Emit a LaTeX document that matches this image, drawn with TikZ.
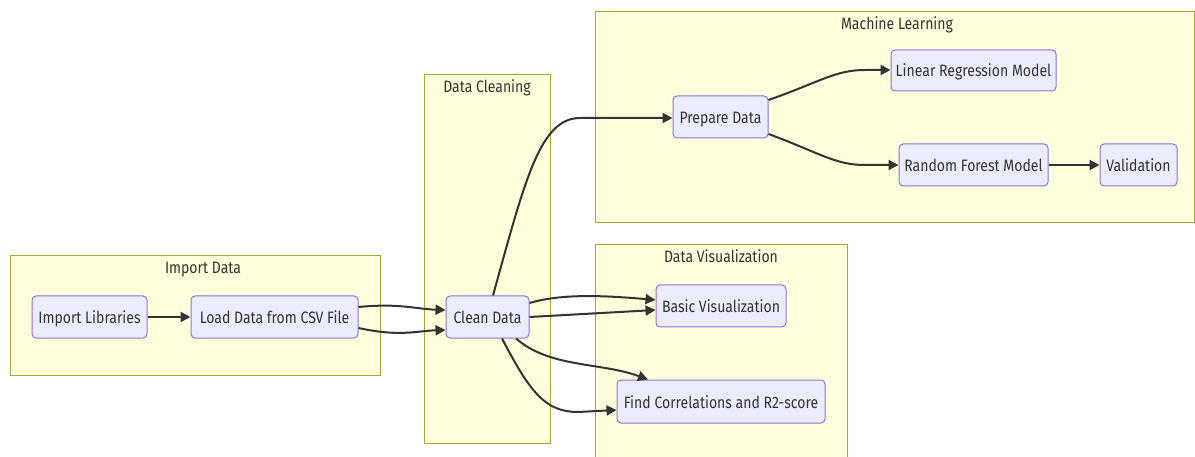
\documentclass[tikz,border=0pt]{standalone}
\usepackage{fontspec}
\setmainfont{Fira Sans}[FakeStretch=0.85]
\usetikzlibrary{arrows.meta}
\definecolor{clusterfill}{HTML}{FFFFDE}
\definecolor{clusterline}{HTML}{AAAA33}
\definecolor{boxfill}{HTML}{ECECFF}
\definecolor{boxline}{HTML}{9370DB}
\definecolor{ink}{HTML}{333333}
\tikzset{
  cluster/.style={draw=clusterline, fill=clusterfill, line width=1pt},
  ctitle/.style={text=ink, font=\fontsize{16.5}{18}\selectfont, inner sep=0pt,
    text height=13.5pt, text depth=1.5pt},
  box/.style={draw=boxline, fill=boxfill, line width=1pt, rounded corners=4pt,
    text=ink, font=\fontsize{16.5}{18}\selectfont, inner sep=0pt,
    text height=14pt, text depth=1pt},
  flow/.style={draw=ink, line width=2pt, -{Triangle[length=10pt,width=10pt]}},
}
\begin{document}
\begin{tikzpicture}[x=1pt,y=-1pt]
\useasboundingbox (0,0) rectangle (1195,457);
% groups
\draw[cluster] (10,256) rectangle (380,375);
\node[ctitle] (tImport) at (203,268) {Import Data};
\draw[cluster] (424,75) rectangle (550,443);
\node[ctitle] (tClean) at (487,87) {Data Cleaning};
\draw[cluster] (595,12) rectangle (1194,223);
\node[ctitle] (tML) at (897,24) {Machine Learning};
\draw[cluster] (595,245) rectangle (847,470);
\node[ctitle] (tVis) at (721,257) {Data Visualization};
% steps
\node[box, minimum width=115pt, minimum height=42pt] (lib) at (89.5,317) {Import Libraries};
\node[box, minimum width=167pt, minimum height=42pt] (load) at (274.5,317) {Load Data from CSV File};
\node[box, minimum width=83pt, minimum height=42pt] (clean) at (487.5,317) {Clean Data};
\node[box, minimum width=95pt, minimum height=42pt] (prep) at (720.5,117) {Prepare Data};
\node[box, minimum width=165pt, minimum height=41pt] (lin) at (973.5,70.5) {Linear Regression Model};
\node[box, minimum width=149pt, minimum height=42pt] (rf) at (973.5,165) {Random Forest Model};
\node[box, minimum width=77pt, minimum height=42pt] (val) at (1138.5,165) {Validation};
\node[box, minimum width=130pt, minimum height=42pt] (basic) at (721,306) {Basic Visualization};
\node[box, minimum width=208pt, minimum height=43pt] (corr) at (721,401.5) {Find Correlations and R2-score};
% connectors
\draw[flow] (lib.east) -- (load.west);
\draw[flow] ([yshift=10pt]load.east) .. controls (400,303) and (415,309) .. ([yshift=7pt]clean.west);
\draw[flow] ([yshift=-11pt]load.east) .. controls (400,337) and (415,331) .. ([yshift=-13pt]clean.west);
\draw[flow] ([xshift=5.5pt]clean.north) .. controls (525,180) and (540,118) .. (580,118) -- ([yshift=-1pt]prep.west);
\draw[flow] ([yshift=14pt]clean.east) .. controls (560,294) and (600,295) .. ([yshift=6pt]basic.west);
\draw[flow] (clean.east) -- ([yshift=-4pt]basic.west);
\draw[flow] ([xshift=28.5pt]clean.south) .. controls (550,368) and (600,362) .. ([xshift=-73pt]corr.north);
\draw[flow] ([xshift=14.5pt]clean.south) .. controls (530,392) and (545,412) .. (578,412) -- ([yshift=-8.5pt]corr.west);
\draw[flow] ([yshift=17pt]prep.east) .. controls (820,82) and (835,70) .. (865,70) -- ([yshift=0.5pt]lin.west);
\draw[flow] ([yshift=-17pt]prep.east) .. controls (820,153) and (835,165) .. (865,165) -- (rf.west);
\draw[flow] (rf.east) -- (val.west);
\end{tikzpicture}
\end{document}
